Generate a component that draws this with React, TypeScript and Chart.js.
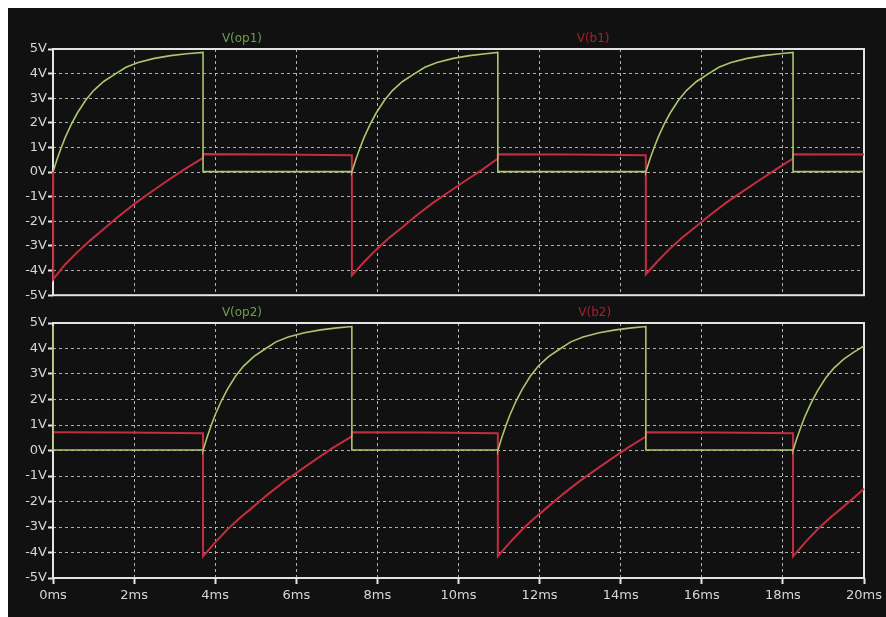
import React, { useEffect, useRef } from "react";
import { Chart, registerables } from "chart.js";
Chart.register(...registerables);

// ---- data (time in ms, voltage in V) ----
const X_MIN = 0;
const X_MAX = 20;
const X_STEP = 2;
const Y_MIN = -5;
const Y_MAX = 5;
const Y_STEP = 1;

const seriesTop = ["V(op1)", "V(b1)"];
const seriesBottom = ["V(op2)", "V(b2)"];

const op1: [number, number][] = [
  [0, 0], [0.1, 0.52], [0.2, 0.98], [0.3, 1.4], [0.45, 1.94], [0.6, 2.4], [0.8, 2.91], [1.0, 3.31],
  [1.25, 3.68], [1.5, 3.95], [1.8, 4.26], [2.1, 4.45], [2.5, 4.62], [2.9, 4.73], [3.3, 4.81], [3.7, 4.86],
  [3.7, 0.02], [5.5, 0.02], [7.37, 0.02],
  [7.37, 0], [7.47, 0.52], [7.57, 0.98], [7.67, 1.4], [7.82, 1.94], [7.97, 2.4], [8.17, 2.91], [8.37, 3.31],
  [8.62, 3.68], [8.87, 3.95], [9.17, 4.26], [9.47, 4.45], [9.87, 4.62], [10.27, 4.73], [10.67, 4.81], [10.97, 4.86],
  [10.97, 0.02], [12.8, 0.02], [14.62, 0.02],
  [14.62, 0], [14.72, 0.52], [14.82, 0.98], [14.92, 1.4], [15.07, 1.94], [15.22, 2.4], [15.42, 2.91], [15.62, 3.31],
  [15.87, 3.68], [16.12, 3.95], [16.42, 4.26], [16.72, 4.45], [17.12, 4.62], [17.52, 4.73], [17.92, 4.81], [18.25, 4.86],
  [18.25, 0.02], [20, 0.02],
];

const b1: [number, number][] = [
  [0, 0], [0.005, -4.35], [0.3, -3.75], [0.6, -3.25], [0.9, -2.8], [1.2, -2.38], [1.6, -1.82], [2.0, -1.3],
  [2.4, -0.83], [2.8, -0.37], [3.2, 0.07], [3.7, 0.58], [3.7, 0.73], [5.5, 0.71], [7.37, 0.68],
  [7.37, -4.2], [7.67, -3.65], [7.97, -3.15], [8.27, -2.7], [8.57, -2.3], [8.97, -1.75], [9.37, -1.25],
  [9.77, -0.8], [10.17, -0.35], [10.57, 0.08], [10.97, 0.55], [10.97, 0.72], [12.8, 0.71], [14.62, 0.68],
  [14.62, -4.15], [14.92, -3.6], [15.22, -3.1], [15.52, -2.66], [15.82, -2.26], [16.22, -1.72], [16.62, -1.22],
  [17.02, -0.77], [17.42, -0.33], [17.82, 0.1], [18.25, 0.55], [18.25, 0.72], [20, 0.71],
];

const op2: [number, number][] = [
  [0, 4.88], [0.005, 0.02], [3.7, 0.02],
  [3.7, 0], [3.8, 0.52], [3.9, 0.98], [4.0, 1.4], [4.15, 1.94], [4.3, 2.4], [4.5, 2.91], [4.7, 3.31],
  [4.95, 3.68], [5.2, 3.95], [5.5, 4.26], [5.8, 4.45], [6.2, 4.62], [6.6, 4.73], [7.0, 4.81], [7.37, 4.86],
  [7.37, 0.02], [10.97, 0.02],
  [10.97, 0], [11.07, 0.52], [11.17, 0.98], [11.27, 1.4], [11.42, 1.94], [11.57, 2.4], [11.77, 2.91], [11.97, 3.31],
  [12.22, 3.68], [12.47, 3.95], [12.77, 4.26], [13.07, 4.45], [13.47, 4.62], [13.87, 4.73], [14.27, 4.81], [14.62, 4.86],
  [14.62, 0.02], [18.25, 0.02],
  [18.25, 0], [18.35, 0.5], [18.45, 0.95], [18.55, 1.36], [18.7, 1.88], [18.85, 2.33], [19.05, 2.83], [19.25, 3.22],
  [19.5, 3.58], [19.75, 3.86], [20, 4.1],
];

const b2: [number, number][] = [
  [0, 0.72], [1.8, 0.71], [3.7, 0.68],
  [3.7, -4.15], [4.0, -3.6], [4.3, -3.1], [4.6, -2.66], [4.9, -2.26], [5.3, -1.72], [5.7, -1.22],
  [6.1, -0.77], [6.5, -0.33], [6.9, 0.1], [7.37, 0.55], [7.37, 0.72], [9.2, 0.71], [10.97, 0.68],
  [10.97, -4.15], [11.27, -3.6], [11.57, -3.1], [11.87, -2.66], [12.17, -2.26], [12.57, -1.72], [12.97, -1.22],
  [13.37, -0.77], [13.77, -0.33], [14.17, 0.1], [14.62, 0.55], [14.62, 0.72], [16.4, 0.71], [18.25, 0.68],
  [18.25, -4.15], [18.55, -3.6], [18.85, -3.1], [19.15, -2.66], [19.45, -2.26], [19.75, -1.85], [20, -1.5],
];

// ---- styles ----
const BG = "#111111";
const GREEN = "#aac66e";
const RED = "#c42c40";
const GREEN_TITLE = "#6e9e4c";
const RED_TITLE = "#a8202e";
const FRAME = "#e4e4e4";
const GRID = "rgba(205,205,205,0.85)";
const TEXT = "#d6d6d6";
const FONT = "DejaVu Sans";

const decor = {
  id: "panelDecor",
  beforeDatasetsDraw(chart: any) {
    const { ctx, chartArea: a } = chart;
    ctx.save();
    ctx.strokeStyle = FRAME;
    ctx.lineWidth = 2;
    ctx.strokeRect(a.left, a.top, a.right - a.left, a.bottom - a.top);
    ctx.restore();
  },
  afterDraw(chart: any, _args: any, opts: any) {
    const { ctx, chartArea: a } = chart;
    ctx.save();
    ctx.font = `12px '${FONT}'`;
    ctx.textAlign = "center";
    ctx.textBaseline = "middle";
    chart.data.datasets.forEach((ds: any, i: number) => {
      ctx.fillStyle = opts.colors[i];
      ctx.fillText(ds.label, a.left + opts.fracs[i] * (a.right - a.left), a.top - 10);
    });
    ctx.restore();
  },
};

function makeConfig(
  labels: string[],
  data: [number, number][][],
  showX: boolean,
  padTop: number,
  xHeight: number,
  fracs: number[]
): any {
  const colors = [GREEN, RED];
  return {
    type: "line",
    data: {
      datasets: data.map((d, i) => ({
        label: labels[i],
        data: d.map(([x, y]) => ({ x, y })),
        borderColor: colors[i],
        borderWidth: i === 0 ? 1.6 : 2,
        pointRadius: 0,
        tension: 0,
        fill: false,
        clip: 3,
      })),
    },
    options: {
      responsive: false,
      animation: false,
      events: [],
      layout: { padding: { top: padTop, right: 22, left: 0, bottom: 0 } },
      plugins: {
        legend: { display: false },
        tooltip: { enabled: false },
        panelDecor: { colors: [GREEN_TITLE, RED_TITLE], fracs },
      },
      scales: {
        x: {
          type: "linear",
          min: X_MIN,
          max: X_MAX,
          ticks: {
            display: showX,
            stepSize: X_STEP,
            color: TEXT,
            font: { family: FONT, size: 13 },
            padding: 4,
            maxRotation: 0,
            callback: (v: number) => v + "ms",
          },
          grid: {
            color: GRID,
            lineWidth: 1,
            drawTicks: showX,
            tickLength: 6,
            tickColor: FRAME,
            tickWidth: 2,
          },
          border: { display: false, dash: [3, 3] },
          afterFit: (s: any) => {
            s.height = xHeight;
          },
        },
        y: {
          type: "linear",
          min: Y_MIN,
          max: Y_MAX,
          ticks: {
            stepSize: Y_STEP,
            color: TEXT,
            font: { family: FONT, size: 13 },
            padding: 1,
            callback: (v: number) => v + "V",
          },
          grid: {
            color: GRID,
            lineWidth: 1,
            drawTicks: true,
            tickLength: 5,
            tickColor: FRAME,
            tickWidth: 2,
          },
          border: { display: false, dash: [3, 3] },
          afterFit: (s: any) => {
            s.width = 45;
          },
        },
      },
    },
    plugins: [decor],
  };
}

export default function App() {
  const topRef = useRef<HTMLCanvasElement>(null);
  const botRef = useRef<HTMLCanvasElement>(null);

  useEffect(() => {
    const c1 = new Chart(
      topRef.current!,
      makeConfig(seriesTop, [op1, b1], false, 41, 3, [0.233, 0.666])
    );
    const c2 = new Chart(
      botRef.current!,
      makeConfig(seriesBottom, [op2, b2], true, 19, 39, [0.233, 0.668])
    );
    return () => {
      c1.destroy();
      c2.destroy();
    };
  }, []);

  return (
    <div
      style={{
        position: "fixed",
        left: 8,
        top: 8,
        width: 1000,
        height: 700,
        background: BG,
      }}
    >
      <canvas
        ref={topRef}
        width={878}
        height={296}
        style={{ position: "absolute", left: 0, top: 0, width: 878, height: 296 }}
      />
      <canvas
        ref={botRef}
        width={878}
        height={313}
        style={{ position: "absolute", left: 0, top: 296, width: 878, height: 313 }}
      />
    </div>
  );
}
